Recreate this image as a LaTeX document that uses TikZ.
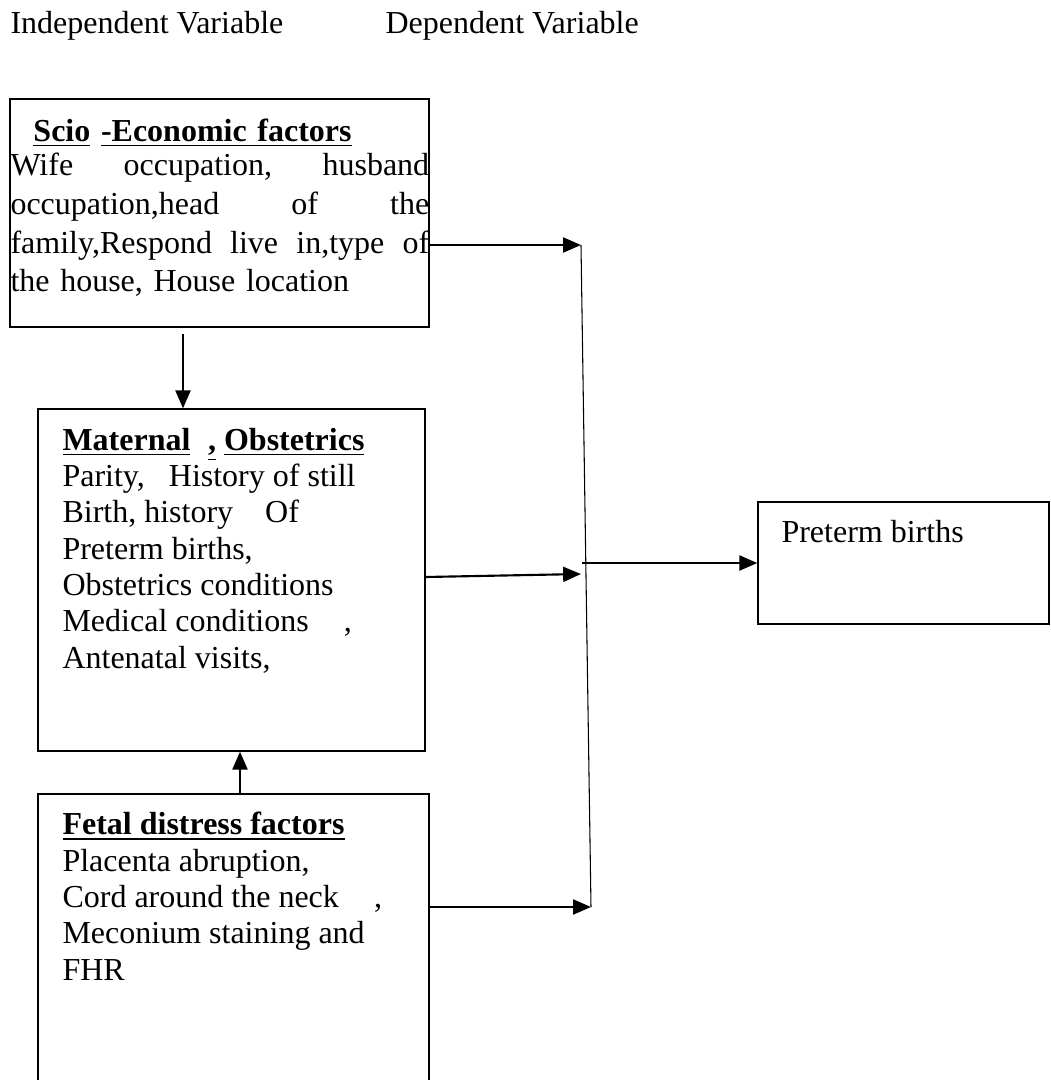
\documentclass[tikz,border=0pt]{standalone}
\usepackage{fontspec}
\setmainfont{Liberation Serif}
\usetikzlibrary{arrows.meta,fit,calc}
\newcommand{\spreadline}[1]{\makebox[157pt]{#1}}
\begin{document}
\begin{tikzpicture}[x=0.375pt, y=-0.375pt,
    frame/.style={draw, line width=0.5pt, inner sep=0pt},
    link/.style={line width=0.8pt, -{Triangle[length=6.7pt,width=5.6pt]}},
    bus/.style={line width=0.4pt},
    txt/.style={anchor=base west, inner sep=0pt, align=left, font=\fontsize{12}{13.6}\selectfont}]
            \useasboundingbox (0,0) rectangle (1051,1080);
            \node[txt] (indep) at (10,33) {Independent Variable};
            \node[txt] (dep) at (385,33) {Dependent Variable};
            \node[frame, fit={(10,99) (429,327)}] (socio) {};
            \node[frame, fit={(38,409) (425,751)}] (maternal) {};
            \node[frame, fit={(38,794) (429,1110)}] (fetal) {};
            \node[frame, fit={(758,502) (1049,624)}] (preterm) {};
            \node[txt, text width=157pt, font=\fontsize{12}{14.5}\selectfont] (sociotext) at (10,141)
            {\hspace*{8.6pt}\textbf{\underline{Scio} \underline{-Economic factors}}\\[-1.5pt]
            \spreadline{Wife\hfill occupation,\hfill husband}\\
            \spreadline{occupation,head\hfill of\hfill the}\\
            \spreadline{family,Respond\hfill live\hfill in,type\hfill of}\\
            the house, House location};
            \node[txt] (maternaltext) at (62,668)
            {\textbf{\underline{Maternal}\hspace{0.55em}\underline{,} \underline{Obstetrics}}\\
            Parity,\hspace{0.75em}History of still\\
            Birth, history\hspace{1em}Of\\
            Preterm births,\\
            Obstetrics conditions\\
            Medical conditions\hspace{1.1em},\\
            Antenatal visits,};
            \node[txt] (fetaltext) at (62,980)
            {\textbf{\underline{Fetal distress factors}}\\
            Placenta abruption,\\
            Cord around the neck\hspace{1.1em},\\
            Meconium staining and\\
            FHR};
            \node[txt] (pretermtext) at (781,542) {Preterm births};
            \coordinate (bustop) at (581,245);
            \coordinate (busbot) at (591,907);
            \coordinate (busmid) at (581,574);
            \coordinate (busout) at (582,563);
            \coordinate (downx) at (183,0);
            \coordinate (upx) at (240,0);
            \draw[bus] (bustop) -- (busbot);
            \draw[link] (socio.east |- bustop) -- (bustop);
            \draw[link] ($(maternal.east)+(0,-3)$) -- (busmid);
            \draw[link] (fetal.east |- busbot) -- (busbot);
            \draw[link] (busout) -- (preterm.west);
            \draw[link, shorten <=2.2pt] (socio.south -| downx) -- (maternal.north -| downx);
            \draw[link] (fetal.north -| upx) -- (maternal.south -| upx);
        \end{tikzpicture}
\end{document}
